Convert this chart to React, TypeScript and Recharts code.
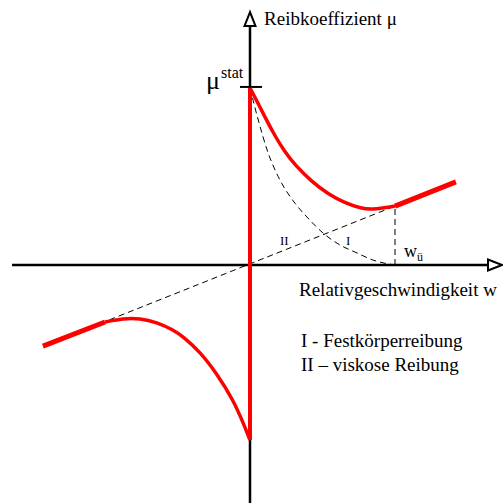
import { LineChart, Line, XAxis, YAxis, ReferenceLine, ReferenceDot } from 'recharts';

// Stribeck-Kurve: Reibkoeffizient über Relativgeschwindigkeit (w normiert auf w_ü, μ auf μ_stat)

// Gesamtreibung, positiver Ast (Mischreibung bis w_ü)
const obenW = [0, 0.055, 0.103, 0.172, 0.241, 0.31, 0.428, 0.538, 0.655, 0.766, 0.848, 0.945, 1.0];
const obenMu = [1.0, 0.915, 0.836, 0.729, 0.638, 0.565, 0.469, 0.401, 0.35, 0.319, 0.314, 0.325, 0.333];

// rein viskoser Bereich oberhalb w_ü
const viskosObenW = [1.0, 1.42];
const viskosObenMu = [0.333, 0.47];

// negativer Ast
const untenW = [-1.0, -0.874, -0.759, -0.643, -0.529, -0.46, -0.345, -0.23, -0.115, -0.046, 0];
const untenMu = [-0.322, -0.301, -0.301, -0.324, -0.367, -0.405, -0.49, -0.612, -0.763, -0.894, -0.989];
const viskosUntenW = [-1.428, -1.0];
const viskosUntenMu = [-0.458, -0.322];

// Haftreibung bei w = 0
const haftW = [0, 0];
const haftMu = [-0.989, 1.0];

// I: Festkörperreibung
const festW = [0, 0.057, 0.126, 0.195, 0.31, 0.393, 0.503, 0.621, 0.738, 0.848, 1.0];
const festMu = [1.0, 0.819, 0.631, 0.499, 0.349, 0.271, 0.181, 0.113, 0.068, 0.028, 0];

// II: viskose Reibung (Gerade durch den Ursprung)
const viskW = [-0.97, 1.0];
const viskMu = [-0.31, 0.333];

// Lotlinie bei w_ü
const wueW = [1.0, 1.0];
const wueMu = [0, 0.333];

const toRows = (ws: number[], mus: number[]) => ws.map((w, i) => ({ w, mu: mus[i] }));
const toSegment = (ws: number[], mus: number[]) =>
  [
    { x: ws[0], y: mus[0] },
    { x: ws[1], y: mus[1] },
  ] as [{ x: number; y: number }, { x: number; y: number }];

const RED = '#ff0000';
const FONT = '"Liberation Serif", "Times New Roman", serif';

type Beschriftung = { text: string; w: number; mu: number; size: number };

const beschriftungen: Beschriftung[] = [
  { text: 'Reibkoeffizient μ', w: 0.097, mu: 1.356, size: 19 },
  { text: 'μ', w: -0.303, mu: 0.994, size: 26 },
  { text: 'stat', w: -0.2, mu: 1.056, size: 16 },
  { text: 'II', w: 0.207, mu: 0.113, size: 13 },
  { text: 'I', w: 0.662, mu: 0.113, size: 13 },
  { text: 'w', w: 1.062, mu: 0.045, size: 18 },
  { text: 'ü', w: 1.152, mu: 0.023, size: 12 },
  { text: 'Relativgeschwindigkeit w', w: 0.338, mu: -0.175, size: 19 },
  { text: 'I - Festkörperreibung', w: 0.352, mu: -0.463, size: 19 },
  { text: 'II – viskose Reibung', w: 0.352, mu: -0.599, size: 19 },
];

const TextShape = (text: string, size: number) => (props: any) => (
  <text x={props.cx} y={props.cy} fontSize={size} fontFamily={FONT} fill="#000" stroke="none">
    {text}
  </text>
);

const PfeilOben = (props: any) => {
  const { cx, cy } = props;
  return (
    <polygon
      points={`${cx},${cy} ${cx - 5.5},${cy + 14} ${cx + 5.5},${cy + 14}`}
      fill="#fff"
      stroke="#000"
      strokeWidth={2}
    />
  );
};

const PfeilRechts = (props: any) => {
  const { cx, cy } = props;
  return (
    <polygon
      points={`${cx},${cy} ${cx - 14},${cy - 5.5} ${cx - 14},${cy + 5.5}`}
      fill="#fff"
      stroke="#000"
      strokeWidth={2}
    />
  );
};

export default function App() {
  return (
    <div style={{ position: 'absolute', left: 0, top: 0, background: '#fff' }}>
      <LineChart width={503} height={503} margin={{ top: 0, right: 0, bottom: 0, left: 0 }}>
        <XAxis type="number" dataKey="w" domain={[-1.7241, 1.7448]} allowDataOverflow hide />
        <YAxis type="number" dataKey="mu" domain={[-1.3446, 1.4972]} allowDataOverflow hide />

        {/* Koordinatenachsen */}
        <ReferenceLine segment={[{ x: -1.641, y: 0 }, { x: 1.641, y: 0 }]} stroke="#000" strokeWidth={2.5} />
        <ReferenceLine segment={[{ x: 0, y: 1.35 }, { x: 0, y: -1.3446 }]} stroke="#000" strokeWidth={2.5} />
        <ReferenceLine segment={[{ x: -0.069, y: 1.006 }, { x: 0.083, y: 1.006 }]} stroke="#000" strokeWidth={2} />
        <ReferenceDot x={0} y={1.429} r={0} shape={PfeilOben} />
        <ReferenceDot x={1.738} y={0} r={0} shape={PfeilRechts} />

        {/* Anteile I und II */}
        <Line data={toRows(festW, festMu)} dataKey="mu" type="monotone" stroke="#000" strokeWidth={1} strokeDasharray="6 4" dot={false} activeDot={false} isAnimationActive={false} />
        <Line data={toRows(viskW, viskMu)} dataKey="mu" type="linear" stroke="#000" strokeWidth={1} strokeDasharray="6 4" dot={false} activeDot={false} isAnimationActive={false} />
        <Line data={toRows(wueW, wueMu)} dataKey="mu" type="linear" stroke="#000" strokeWidth={1} strokeDasharray="6 4" dot={false} activeDot={false} isAnimationActive={false} />

        {/* Gesamtreibung */}
        <ReferenceLine segment={toSegment(haftW, haftMu)} stroke={RED} strokeWidth={4} />
        <Line data={toRows(obenW, obenMu)} dataKey="mu" type="basis" stroke={RED} strokeWidth={3.5} dot={false} activeDot={false} isAnimationActive={false} />
        <ReferenceLine segment={toSegment(viskosObenW, viskosObenMu)} stroke={RED} strokeWidth={5} />
        <Line data={toRows(untenW, untenMu)} dataKey="mu" type="basis" stroke={RED} strokeWidth={3.5} dot={false} activeDot={false} isAnimationActive={false} />
        <ReferenceLine segment={toSegment(viskosUntenW, viskosUntenMu)} stroke={RED} strokeWidth={5} />

        {beschriftungen.map((b) => (
          <ReferenceDot key={b.text} x={b.w} y={b.mu} r={0} shape={TextShape(b.text, b.size)} />
        ))}
      </LineChart>
    </div>
  );
}
